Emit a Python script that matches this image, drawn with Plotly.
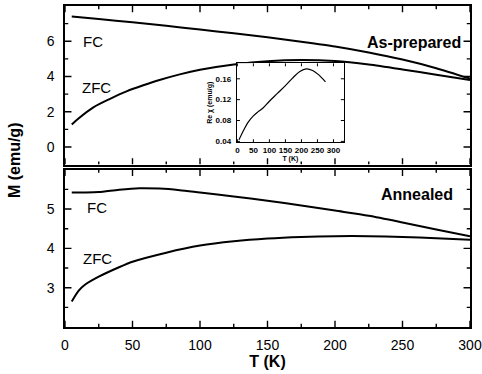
import plotly.graph_objects as go

# Top panel (As-prepared)
T_fc1 = [5, 25, 50, 75, 100, 125, 150, 175, 200, 225, 250, 275, 300]
M_fc1 = [7.41, 7.26, 7.08, 6.88, 6.66, 6.45, 6.22, 5.97, 5.7, 5.36, 4.96, 4.47, 3.88]
T_zfc1 = [5, 10, 21, 33, 46, 58, 70, 85, 100, 125, 150, 175, 200, 225, 250, 275, 300]
M_zfc1 = [1.28, 1.62, 2.25, 2.72, 3.17, 3.5, 3.8, 4.12, 4.38, 4.68, 4.87, 4.94, 4.88, 4.68, 4.4, 4.1, 3.8]

# Bottom panel (Annealed)
T_fc2 = [5, 15, 25, 40, 55, 70, 85, 100, 125, 150, 175, 200, 225, 250, 275, 300]
M_fc2 = [5.42, 5.42, 5.43, 5.49, 5.53, 5.52, 5.48, 5.42, 5.32, 5.21, 5.09, 4.96, 4.83, 4.66, 4.48, 4.31]
T_zfc2 = [5, 10, 15, 25, 40, 50, 75, 100, 125, 150, 175, 200, 225, 250, 275, 300]
M_zfc2 = [2.65, 2.92, 3.08, 3.28, 3.52, 3.66, 3.89, 4.07, 4.18, 4.25, 4.29, 4.31, 4.31, 4.29, 4.26, 4.22]

# Inset
T_in = [5, 20, 35, 50, 65, 80, 100, 125, 150, 175, 195, 215, 235, 255, 275]
chi_in = [0.043, 0.062, 0.078, 0.089, 0.097, 0.104, 0.117, 0.132, 0.147, 0.163, 0.174, 0.179, 0.176, 0.167, 0.154]

# Tick values
x_major = [0, 50, 100, 150, 200, 250, 300]
x_minor = [25, 75, 125, 175, 225, 275]
y_bot_major = [3, 4, 5]
y_bot_minor = [2.5, 3.5, 4.5, 5.5]
y_top_major = [0, 2, 4, 6]
y_top_minor = [1, 3, 5, 7]
inset_xticks = [0, 50, 100, 150, 200, 250, 300]
inset_yticks = [0.04, 0.08, 0.12, 0.16]

# Axis ranges
X_RANGE = [0, 300]
Y_BOT_RANGE = [2, 6]
Y_TOP_RANGE = [-1, 8]
XI_RANGE = [-2, 333]
YI_RANGE = [0.038, 0.19]

FONT = "Liberation Sans, Arial, sans-serif"
line = dict(color="black", width=2, shape="spline", smoothing=0.7)

fig = go.Figure()
fig.add_trace(go.Scatter(x=T_fc1, y=M_fc1, mode="lines", line=line, xaxis="x2", yaxis="y2"))
fig.add_trace(go.Scatter(x=T_zfc1, y=M_zfc1, mode="lines", line=line, xaxis="x2", yaxis="y2"))
fig.add_trace(go.Scatter(x=T_fc2, y=M_fc2, mode="lines", line=line, xaxis="x", yaxis="y"))
fig.add_trace(go.Scatter(x=T_zfc2, y=M_zfc2, mode="lines", line=line, xaxis="x", yaxis="y"))
fig.add_trace(go.Scatter(x=T_in, y=chi_in, mode="lines", line=dict(color="black", width=1.2, shape="spline"),
                         xaxis="x3", yaxis="y3"))


# Tick marks as line segments on each subplot's own data scale (inside, mirrored)
def tick_trace(xa, ya, xr, yr, xmaj, xmin, ymaj, ymin, fx, fy, width):
    xs, ys = [], []
    ly_maj = (yr[1] - yr[0]) * fy
    lx_maj = (xr[1] - xr[0]) * fx
    for vals, f in ((xmaj, 1.0), (xmin, 0.5)):
        for v in vals:
            xs += [v, v, None, v, v, None]
            ys += [yr[0], yr[0] + ly_maj * f, None, yr[1], yr[1] - ly_maj * f, None]
    for vals, f in ((ymaj, 1.0), (ymin, 0.5)):
        for v in vals:
            xs += [xr[0], xr[0] + lx_maj * f, None, xr[1], xr[1] - lx_maj * f, None]
            ys += [v, v, None, v, v, None]
    return go.Scatter(x=xs, y=ys, mode="lines", line=dict(color="black", width=width),
                      xaxis=xa, yaxis=ya, hoverinfo="skip", connectgaps=False)


fig.add_trace(tick_trace("x", "y", X_RANGE, Y_BOT_RANGE, x_major, x_minor, y_bot_major, y_bot_minor, 0.016, 0.04, 1.4))
fig.add_trace(tick_trace("x2", "y2", X_RANGE, Y_TOP_RANGE, x_major, x_minor, y_top_major, y_top_minor, 0.016, 0.04, 1.4))
fig.add_trace(tick_trace("x3", "y3", XI_RANGE, YI_RANGE, inset_xticks, [], inset_yticks, [], 0.03, 0.04, 1.0))


def ax(**kw):
    d = dict(showline=True, linecolor="black", linewidth=1.5, mirror=True, ticks="",
             showgrid=False, zeroline=False, tickfont=dict(family=FONT, size=14, color="black"))
    d.update(kw)
    return d


fig.update_layout(
    template="none",
    width=482, height=374,
    margin=dict(l=65, r=12, t=6, b=47),
    paper_bgcolor="white", plot_bgcolor="white",
    showlegend=False,
    xaxis=ax(domain=[0, 1], range=X_RANGE, tickvals=x_major, anchor="y", ticklabelstandoff=4,
             title=dict(text="<b>T (K)</b>", font=dict(family=FONT, size=16, color="black"), standoff=4)),
    yaxis=ax(domain=[0, 0.49], range=Y_BOT_RANGE, tickvals=y_bot_major, anchor="x", ticklabelstandoff=6),
    xaxis2=ax(domain=[0, 1], range=X_RANGE, tickvals=x_major, anchor="y2", showticklabels=False),
    yaxis2=ax(domain=[0.506, 1], range=Y_TOP_RANGE, tickvals=y_top_major, anchor="x2", ticklabelstandoff=6),
    xaxis3=ax(domain=[0.424, 0.689], range=XI_RANGE, anchor="y3", tickvals=inset_xticks,
              ticktext=["<b>%d</b>" % v for v in inset_xticks], linewidth=1,
              tickfont=dict(family=FONT, size=8, color="black"), ticklabelstandoff=0,
              title=dict(text="<b>T (K)</b>", font=dict(family=FONT, size=7, color="black"), standoff=1)),
    yaxis3=ax(domain=[0.575, 0.822], range=YI_RANGE, anchor="x3", tickvals=inset_yticks,
              ticktext=["<b>%.2f</b>" % v for v in inset_yticks], linewidth=1,
              tickfont=dict(family=FONT, size=8, color="black"), ticklabelstandoff=3,
              title=dict(text="<b>Re χ (emu/g)</b>", font=dict(family=FONT, size=7, color="black"), standoff=2)),
)

ann_font = dict(family=FONT, size=15, color="black")
annotations = [
    dict(x=295, y=5.95, xref="x2", yref="y2", text="<b>As-prepared</b>", xanchor="right", yanchor="middle",
         showarrow=False, font=dict(family=FONT, size=16, color="black")),
    dict(x=21, y=6.0, xref="x2", yref="y2", text="FC", showarrow=False, font=ann_font),
    dict(x=23, y=3.36, xref="x2", yref="y2", text="ZFC", showarrow=False, font=ann_font),
    dict(x=289, y=5.36, xref="x", yref="y", text="<b>Annealed</b>", xanchor="right", yanchor="middle",
         showarrow=False, font=dict(family=FONT, size=16, color="black")),
    dict(x=24, y=5.03, xref="x", yref="y", text="FC", showarrow=False, font=ann_font),
    dict(x=24, y=3.73, xref="x", yref="y", text="ZFC", showarrow=False, font=ann_font),
    dict(x=-51 / 405, y=0.52, xref="paper", yref="paper", text="<b>M (emu/g)</b>", textangle=-90,
         showarrow=False, font=dict(family=FONT, size=16, color="black"), xanchor="center", yanchor="middle"),
]
fig.update_layout(annotations=annotations)

fig.write_html("out.html")
